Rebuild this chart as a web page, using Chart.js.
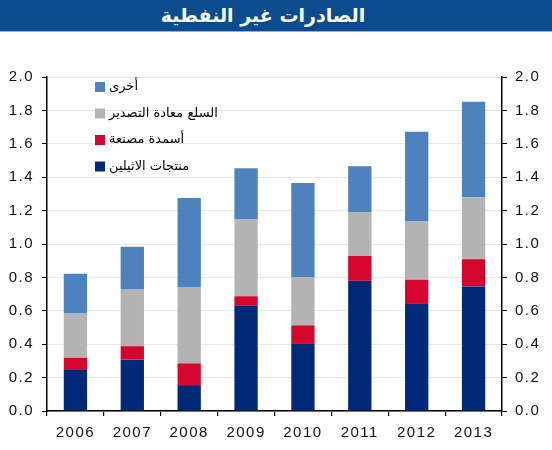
<!DOCTYPE html>
<html>
<head>
<meta charset="utf-8">
<script src="https://cdn.jsdelivr.net/npm/chart.js@4/dist/chart.umd.min.js"></script>
<style>
  html, body { margin: 0; padding: 0; background: #fff; }
  #title { width: 552px; height: 31px; background: #0b4b8e; border-bottom: 1px solid #8fb0d6;
           color: #fff; font: bold 19px "DejaVu Sans", sans-serif; text-align: center; line-height: 31px;
           direction: rtl; box-sizing: content-box; padding: 0; }
  #title span { position: relative; left: -13px; }
  #wrap { width: 552px; height: 418px; position: relative; }
</style>
</head>
<body>
<div id="title"><span>الصادرات غير النفطية</span></div>
<div id="wrap"><canvas id="c" width="552" height="418"></canvas></div>
<script>
const categories = ['2006','2007','2008','2009','2010','2011','2012','2013'];
const ethylene   = [0.245, 0.309, 0.155, 0.631, 0.402, 0.780, 0.641, 0.746];
const fertilizer = [0.073, 0.079, 0.130, 0.056, 0.111, 0.149, 0.145, 0.163];
const reexports  = [0.269, 0.342, 0.457, 0.463, 0.287, 0.259, 0.351, 0.371];
const others     = [0.235, 0.253, 0.534, 0.303, 0.565, 0.277, 0.535, 0.572];
const seriesNames = ['منتجات الاثيلين', 'أسمدة مصنعة', 'السلع معادة التصدير', 'أخرى'];
const seriesColors = ['#002a78', '#d4062e', '#b3b3b3', '#4f81bd'];
const yTicks = [0, 2, 0.2];

const legendPlugin = {
  id: 'insideLegend',
  afterDraw(chart) {
    const ctx = chart.ctx;
    const ds = chart.data.datasets;
    ctx.save();
    ctx.letterSpacing = '0px';
    ctx.font = '13px "DejaVu Sans", sans-serif';
    ctx.textBaseline = 'middle';
    ctx.textAlign = 'left';
    const x0 = 95, y0 = 55, gap = 26.5;
    for (let i = ds.length - 1, row = 0; i >= 0; i--, row++) {
      const y = y0 + row * gap;
      ctx.fillStyle = ds[i].backgroundColor;
      ctx.fillRect(x0, y - 5, 10, 10);
      ctx.fillStyle = '#000';
      ctx.fillText(ds[i].label, x0 + 14, y);
    }
    ctx.restore();
  }
};
const spacingPlugin = {
  id: 'spacing',
  beforeDraw(chart) { chart.ctx.letterSpacing = '1.5px'; }
};

new Chart(document.getElementById('c'), {
  type: 'bar',
  data: {
    labels: categories,
    datasets: [ethylene, fertilizer, reexports, others].map((d, i) => ({
      label: seriesNames[i], data: d, backgroundColor: seriesColors[i],
      borderWidth: 0, yAxisID: 'y', categoryPercentage: 1.0, barPercentage: 0.41
    }))
  },
  options: {
    responsive: false, animation: false,
    layout: { padding: { top: 45, left: 0, right: 0, bottom: 0 } },
    plugins: { legend: { display: false }, tooltip: { enabled: false }, title: { display: false } },
    scales: {
      x: {
        stacked: true,
        grid: { offset: true, drawOnChartArea: false, tickLength: 5, tickColor: '#000', lineWidth: 1.2 },
        border: { color: '#000', width: 1.5 },
        ticks: { font: { family: '"Liberation Sans", Arial', size: 15 }, color: '#111', padding: 8, maxRotation: 0 },
        afterFit(s) { s.height = 39; }
      },
      y: {
        stacked: true, position: 'left', min: yTicks[0], max: yTicks[1],
        grid: { color: '#e8e8e8', tickLength: 5, tickColor: '#000', lineWidth: 1 },
        border: { color: '#000', width: 1.5 },
        ticks: { stepSize: yTicks[2], font: { family: '"Liberation Sans", Arial', size: 15 }, color: '#111', padding: 8,
                 callback: v => v.toFixed(1) },
        afterFit(s) { s.width = 47; }
      },
      y2: {
        position: 'right', min: yTicks[0], max: yTicks[1],
        grid: { drawOnChartArea: false, tickLength: 5, tickColor: '#000', lineWidth: 1 },
        border: { color: '#000', width: 1.5 },
        ticks: { stepSize: yTicks[2], font: { family: '"Liberation Sans", Arial', size: 15 }, color: '#111', padding: 8,
                 callback: v => v.toFixed(1) },
        afterFit(s) { s.width = 50; }
      }
    }
  },
  plugins: [spacingPlugin, legendPlugin]
});
</script>
</body>
</html>
